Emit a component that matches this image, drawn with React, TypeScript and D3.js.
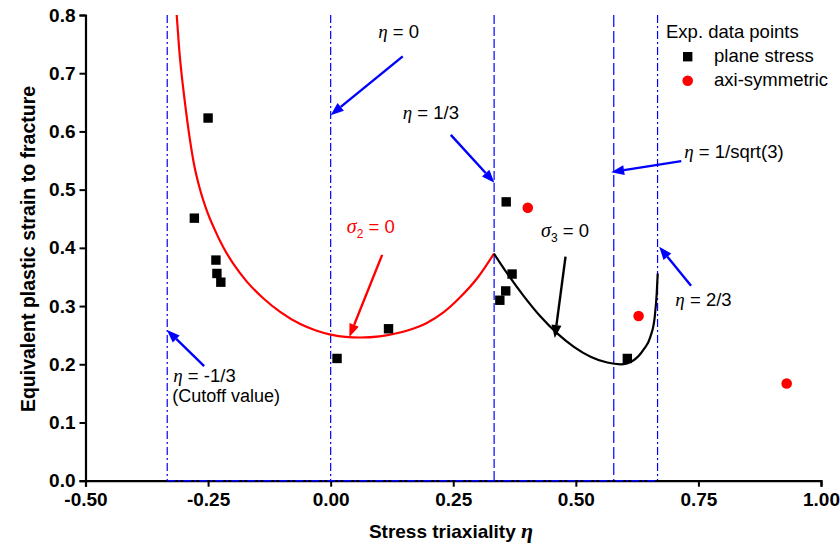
import React, { useEffect, useRef } from 'react';
import * as d3 from 'd3';

// fitted fracture locus, sigma2 = 0 branch (plane stress)
const redCurve: [number, number][] = [
  [-0.314, 0.8], [-0.309, 0.742], [-0.298, 0.655], [-0.29, 0.603], [-0.279, 0.545],
  [-0.266, 0.499], [-0.253, 0.465], [-0.239, 0.436], [-0.219, 0.401], [-0.198, 0.372],
  [-0.171, 0.342], [-0.137, 0.313], [-0.103, 0.29], [-0.062, 0.269], [-0.03, 0.258],
  [0.0, 0.251], [0.03, 0.247], [0.06, 0.246], [0.1, 0.248], [0.128, 0.252],
  [0.16, 0.259], [0.196, 0.271], [0.23, 0.289], [0.264, 0.315], [0.3, 0.349],
  [0.333, 0.39],
];

// sigma3 = 0 branch
const blackCurve: [number, number][] = [
  [0.333, 0.39], [0.36, 0.356], [0.393, 0.318], [0.428, 0.282], [0.462, 0.253],
  [0.496, 0.23], [0.53, 0.213], [0.564, 0.203], [0.591, 0.2], [0.618, 0.207],
  [0.638, 0.225], [0.652, 0.247], [0.661, 0.282], [0.665, 0.322], [0.667, 0.356],
];

const planeStress: [number, number][] = [
  [-0.25, 0.623], [-0.278, 0.451], [-0.234, 0.379], [-0.232, 0.356], [-0.224, 0.341],
  [0.013, 0.21], [0.118, 0.261], [0.358, 0.479], [0.37, 0.355], [0.357, 0.326],
  [0.345, 0.31], [0.605, 0.21],
];

const axiSymmetric: [number, number][] = [
  [0.402, 0.469], [0.628, 0.283], [0.93, 0.167],
];

// reference lines: eta value, dash style
const refLines: { eta: number; dash: string }[] = [
  { eta: -1 / 3, dash: '8,3,2,3' },
  { eta: 0, dash: '8,3,2,3' },
  { eta: 1 / 3, dash: '9,3' },
  { eta: 1 / Math.sqrt(3), dash: '12,4' },
  { eta: 2 / 3, dash: '8,3,2,3' },
];

const xTicks = [-0.5, -0.25, 0, 0.25, 0.5, 0.75, 1.0];
const yTicks = [0, 0.1, 0.2, 0.3, 0.4, 0.5, 0.6, 0.7, 0.8];

// arrows in data units
const arrows: { from: [number, number]; to: [number, number]; color: string }[] = [
  { from: [0.147, 0.729], to: [0.0, 0.628], color: '#0000ff' },
  { from: [0.245, 0.594], to: [0.334, 0.512], color: '#0000ff' },
  { from: [0.715, 0.549], to: [0.572, 0.53], color: '#0000ff' },
  { from: [0.735, 0.335], to: [0.67, 0.402], color: '#0000ff' },
  { from: [-0.258, 0.197], to: [-0.334, 0.259], color: '#0000ff' },
  { from: [0.105, 0.388], to: [0.038, 0.247], color: '#ff0000' },
  { from: [0.479, 0.385], to: [0.457, 0.245], color: '#000000' },
];

const etaLabels: { text: string; at: [number, number] }[] = [
  { text: ' = 0', at: [0.097, 0.761] },
  { text: ' = 1/3', at: [0.147, 0.621] },
  { text: ' = 1/sqrt(3)', at: [0.721, 0.554] },
  { text: ' = 2/3', at: [0.703, 0.3] },
  { text: ' = -1/3', at: [-0.321, 0.17] },
];

const W = 840;
const H = 547;
const x = d3.scaleLinear().domain([-0.5, 1.0]).range([85.5, 821]);
const y = d3.scaleLinear().domain([0, 0.8]).range([480.7, 15]);

const SANS = '"Liberation Sans", Arial, sans-serif';
const SERIF = '"Liberation Serif", "Times New Roman", serif';
const FS = 18.5;

export default function App() {
  const xRef = useRef<SVGGElement>(null);
  const yRef = useRef<SVGGElement>(null);

  useEffect(() => {
    document.body.style.margin = '0';
    const fx = (d: d3.NumberValue) => (+d).toFixed(2);
    const fy = (d: d3.NumberValue) => (+d).toFixed(1);
    const xa = d3.select(xRef.current!);
    xa.selectAll('*').remove();
    xa.call(
      d3.axisBottom(x).tickValues(d3.range(-0.5, 1.0001, 0.125)).tickSize(4).tickFormat(() => '')
    );
    xa.call(d3.axisBottom(x).tickValues(xTicks).tickSize(6).tickPadding(6).tickFormat(fx));
    const ya = d3.select(yRef.current!);
    ya.selectAll('*').remove();
    ya.call(
      d3.axisLeft(y).tickValues(d3.range(0, 0.8001, 0.05)).tickSize(4).tickFormat(() => '')
    );
    ya.call(d3.axisLeft(y).tickValues(yTicks).tickSize(6).tickPadding(4).tickFormat(fy));
    [xa, ya].forEach((g) => {
      g.selectAll('.domain').attr('stroke', '#000').attr('stroke-width', 2.2);
      g.selectAll('line').attr('stroke', '#000').attr('stroke-width', 2);
      g.selectAll('text')
        .attr('font-family', SANS)
        .attr('font-weight', 'bold')
        .attr('font-size', 19)
        .attr('fill', '#000');
    });
  }, []);

  const line = d3.line<[number, number]>()
    .x((d) => x(d[0]))
    .y((d) => y(d[1]))
    .curve(d3.curveMonotoneX);

  const head = (a: { from: [number, number]; to: [number, number] }) => {
    const x1 = x(a.from[0]), y1 = y(a.from[1]);
    const x2 = x(a.to[0]), y2 = y(a.to[1]);
    const ang = Math.atan2(y2 - y1, x2 - x1);
    const len = 13, half = 5;
    const bx = x2 - len * Math.cos(ang), by = y2 - len * Math.sin(ang);
    const px = -Math.sin(ang) * half, py = Math.cos(ang) * half;
    return { x1, y1, bx, by, pts: `${x2},${y2} ${bx + px},${by + py} ${bx - px},${by - py}` };
  };

  return (
    <svg width={W} height={H} style={{ display: 'block', background: '#fff' }}>
      {/* reference lines */}
      {refLines.map((r, i) => (
        <line key={i} x1={x(r.eta)} x2={x(r.eta)} y1={y(0.8)} y2={y(0)}
          stroke="#0000ff" strokeWidth={1.2} strokeDasharray={r.dash} />
      ))}

      <g ref={xRef} transform={`translate(0,${y(0)})`} />
      <g ref={yRef} transform={`translate(${x(-0.5)},0)`} />
      <line x1={x(-1 / 3)} x2={x(2 / 3)} y1={y(0)} y2={y(0)}
        stroke="#0000ff" strokeWidth={1.6} strokeDasharray="8,3,2,3" />

      <path d={line(redCurve)!} fill="none" stroke="#ff0000" strokeWidth={2.2} />
      <path d={line(blackCurve)!} fill="none" stroke="#000" strokeWidth={2.2} />

      {planeStress.map((d, i) => (
        <rect key={i} x={x(d[0]) - 4.7} y={y(d[1]) - 4.7} width={9.4} height={9.4} fill="#000" />
      ))}
      {axiSymmetric.map((d, i) => (
        <circle key={i} cx={x(d[0])} cy={y(d[1])} r={5.3} fill="#ff0000" />
      ))}

      {arrows.map((a, i) => {
        const h = head(a);
        return (
          <g key={i}>
            <line x1={h.x1} y1={h.y1} x2={h.bx} y2={h.by} stroke={a.color} strokeWidth={2.4} />
            <polygon points={h.pts} fill={a.color} />
          </g>
        );
      })}

      {etaLabels.map((l, i) => (
        <text key={i} x={x(l.at[0])} y={y(l.at[1])} fontFamily={SANS} fontSize={FS} fill="#000">
          <tspan fontFamily={SERIF} fontStyle="italic" fontSize={19}>η</tspan>{l.text}
        </text>
      ))}
      <text x={x(-0.323)} y={y(0.136)} fontFamily={SANS} fontSize={18} fill="#000">(Cutoff value)</text>

      <text x={x(0.033)} y={y(0.426)} fontFamily={SANS} fontSize={FS} fill="#ff0000">
        <tspan fontFamily={SERIF} fontStyle="italic" fontSize={20}>σ</tspan>
        <tspan fontSize={12} dy={5}>2</tspan>
        <tspan dy={-5}> = 0</tspan>
      </text>
      <text x={x(0.429)} y={y(0.419)} fontFamily={SANS} fontSize={FS} fill="#000">
        <tspan fontFamily={SERIF} fontStyle="italic" fontSize={20}>σ</tspan>
        <tspan fontSize={12} dy={5}>3</tspan>
        <tspan dy={-5}> = 0</tspan>
      </text>

      {/* legend */}
      <text x={666} y={38} fontFamily={SANS} fontSize={FS} fill="#000">Exp. data points</text>
      <rect x={683} y={52} width={9.4} height={9.4} fill="#000" />
      <text x={714} y={62} fontFamily={SANS} fontSize={FS} fill="#000">plane stress</text>
      <circle cx={687.7} cy={80.7} r={5.3} fill="#ff0000" />
      <text x={714} y={86} fontFamily={SANS} fontSize={FS} fill="#000">axi-symmetric</text>

      {/* axis titles */}
      <text x={451} y={538} textAnchor="middle" fontFamily={SANS} fontWeight="bold" fontSize={19} fill="#000">
        Stress triaxiality <tspan fontFamily={SERIF} fontStyle="italic" fontSize={22}>η</tspan>
      </text>
      <text transform="translate(35,249) rotate(-90)" textAnchor="middle" fontFamily={SANS}
        fontWeight="bold" fontSize={19.5} fill="#000">
        Equivalent plastic strain to fracture
      </text>
    </svg>
  );
}
